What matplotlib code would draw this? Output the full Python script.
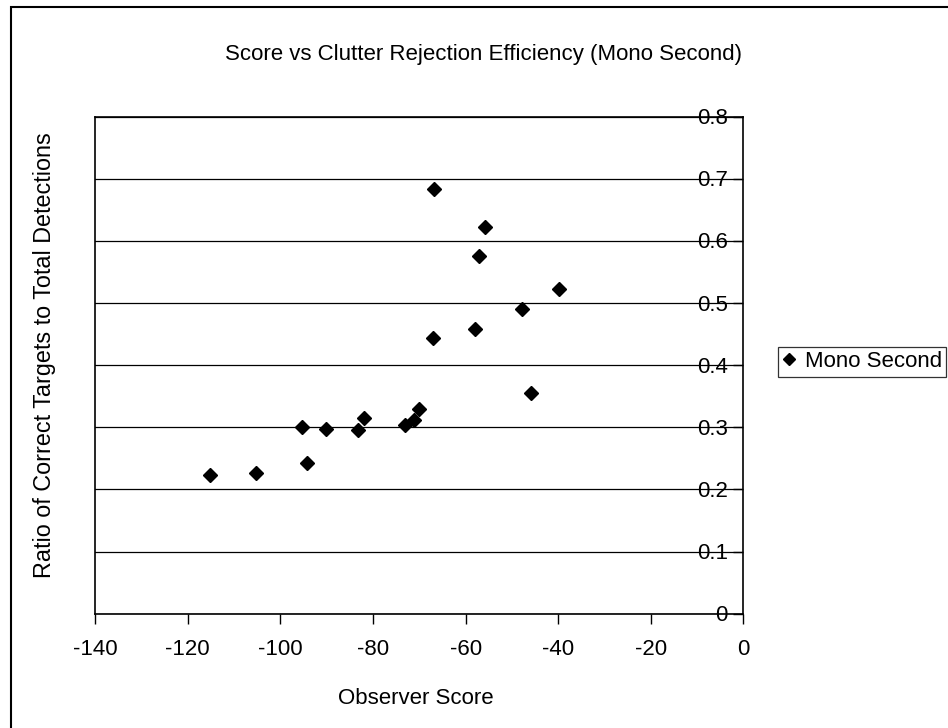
import matplotlib
matplotlib.use("Agg")
import matplotlib.pyplot as plt
from matplotlib.lines import Line2D
from matplotlib.patches import Rectangle
from matplotlib.transforms import ScaledTranslation

plt.rcParams['font.family'] = ['Liberation Sans', 'DejaVu Sans']

# ---- data ----
observer_score = [-66.9, -55.9, -57.0, -39.8, -47.9, -58.0, -67.1, -45.8, -70.1,
                  -71.1, -73.1, -82.0, -83.2, -90.2, -95.3, -94.2, -105.3, -115.1]
ratio = [0.683, 0.622, 0.576, 0.523, 0.490, 0.458, 0.443, 0.355, 0.330,
         0.311, 0.303, 0.315, 0.295, 0.298, 0.300, 0.243, 0.226, 0.224]
x_ticks = [-140, -120, -100, -80, -60, -40, -20, 0]
y_ticks = [0, 0.1, 0.2, 0.3, 0.4, 0.5, 0.6, 0.7, 0.8]
y_tick_labels = ['0', '0.1', '0.2', '0.3', '0.4', '0.5', '0.6', '0.7', '0.8']
series_name = 'Mono Second'
title = 'Score vs Clutter Rejection Efficiency (Mono Second)'
x_label = 'Observer Score'
y_label = 'Ratio of Correct Targets to Total Detections'

W, H = 948, 728
fig = plt.figure(figsize=(W / 100, H / 100), dpi=100)
fig.patch.set_facecolor('white')

L, R, T, B = 95, 743.5, 116.7, 613.7
ax = fig.add_axes([L / W, 1 - B / H, (R - L) / W, (B - T) / H])

ax.plot(observer_score, ratio, linestyle='none', marker='D', markersize=7.5,
        color='black', zorder=3)

ax.set_xlim(-140, 0)
ax.set_ylim(0, 0.8)
ax.set_xticks(x_ticks)
ax.set_xticklabels([str(v) for v in x_ticks])
ax.set_yticks(y_ticks)

ax.yaxis.grid(True, color='black', linewidth=0.9)
ax.xaxis.grid(False)
ax.set_axisbelow(True)

for s in ax.spines.values():
    s.set_color('black')
    s.set_linewidth(1.2)

FS = 16
ax.tick_params(axis='x', direction='out', length=7, width=1, colors='black',
               labelsize=FS, pad=11)
ax.yaxis.tick_right()
ax.tick_params(axis='y', direction='in', length=7, width=1, colors='black',
               labelright=False, labelleft=False)

# y tick labels to the left of the right-hand axis (Excel style)
off = ScaledTranslation(-0.155, -0.02, fig.dpi_scale_trans)
for yv, lab in zip(y_ticks, y_tick_labels):
    ax.text(1.0, yv, lab, transform=ax.get_yaxis_transform() + off,
            ha='right', va='center', fontsize=FS, color='black',
            clip_on=False)

# axis labels
ax.set_xlabel(x_label, fontsize=FS)
ax.xaxis.set_label_coords((416 - L) / (R - L), -(704 - B) / (B - T))
ax.xaxis.label.set_va('baseline')
ax.xaxis.label.set_ha('center')

fig.text(51.5 / W, 1 - 355 / H, y_label, rotation=90, rotation_mode='anchor',
         ha='center', va='baseline', fontsize=16.8)

fig.text(483.5 / W, 1 - 60 / H, title, ha='center', va='baseline', fontsize=FS)

# legend
handle = Line2D([], [], linestyle='none', marker='D', markersize=6, color='black')
leg = fig.legend([handle], [series_name], loc='upper left',
                 bbox_to_anchor=(778 / W, 1 - 346.7 / H), frameon=True,
                 fancybox=False, edgecolor='black', borderpad=0.2,
                 handlelength=0.6, handletextpad=0.4, borderaxespad=0,
                 fontsize=FS)
leg.get_frame().set_linewidth(0.9)

# outer chart-area border (cropped on the right and bottom)
fig.add_artist(Rectangle((11 / W, -0.1), 1.2, (1 - 7.3 / H) + 0.1,
                         transform=fig.transFigure, fill=False,
                         edgecolor='black', linewidth=1.5))

fig.savefig('out.png', dpi=100)
